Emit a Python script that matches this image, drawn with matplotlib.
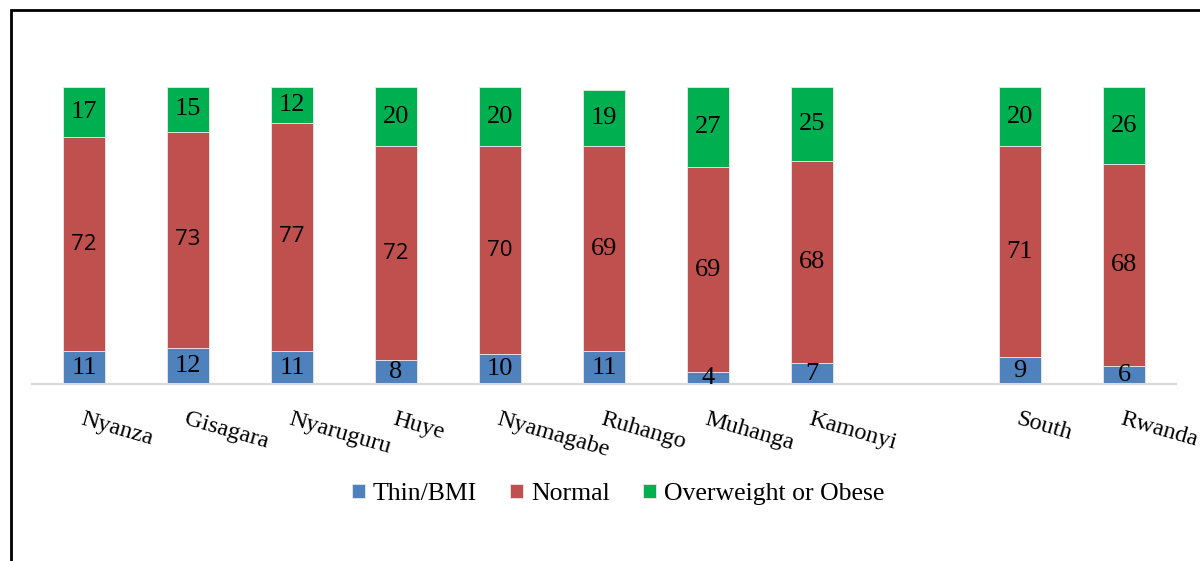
import matplotlib.pyplot as plt
from matplotlib.patches import Rectangle

# BMI categories by district (percent)
districts = ['Nyanza', 'Gisagara', 'Nyaruguru', 'Huye', 'Nyamagabe',
             'Ruhango', 'Muhanga', 'Kamonyi', '', 'South', 'Rwanda']
thin = [11, 12, 11, 8, 10, 11, 4, 7, None, 9, 6]
normal = [72, 73, 77, 72, 70, 69, 69, 68, None, 71, 68]
overweight = [17, 15, 12, 20, 20, 19, 27, 25, None, 20, 26]

series_names = ['Thin/BMI', 'Normal', 'Overweight or Obese']
colors = ['#4F81BD', '#C0504D', '#00B050']

serif = 'Liberation Serif'
sans = 'Open Sans'

fig = plt.figure(figsize=(12, 5.61), dpi=100)
W, H = 1200, 561
ax = fig.add_axes([32 / W, 1 - 384 / H, 1144 / W, 297 / H])

# drop the empty spacer slot
idx = [i for i, d in enumerate(districts) if d]
x = idx
t = [thin[i] for i in idx]
n = [normal[i] for i in idx]
o = [overweight[i] for i in idx]
bottom_o = [a + b for a, b in zip(t, n)]

bw = 0.40
b1 = ax.bar(x, t, bw, color=colors[0], edgecolor='#e8e8e8', linewidth=0.6, label=series_names[0])
b2 = ax.bar(x, n, bw, bottom=t, color=colors[1], edgecolor='#e8e8e8', linewidth=0.6, label=series_names[1])
b3 = ax.bar(x, o, bw, bottom=bottom_o, color=colors[2], edgecolor='#e8e8e8', linewidth=0.6, label=series_names[2])

# value labels
for k, xi in enumerate(x):
    ax.text(xi, t[k] / 2, str(t[k]), ha='center', va='center',
            fontsize=19, family=serif, color='black')
    mid_font = sans if k < 5 else serif
    mid_size = 16 if k < 5 else 19
    ax.text(xi, t[k] + n[k] / 2, str(n[k]), ha='center', va='center',
            fontsize=mid_size, family=mid_font, color='black')
    ax.text(xi, bottom_o[k] + o[k] / 2, str(o[k]), ha='center', va='center',
            fontsize=19, family=serif, color='black')

ax.set_xlim(-0.5, 10.5)
ax.set_ylim(0, 100)
ax.set_yticks([])
ax.set_xticks(x)
ax.set_xticklabels([districts[i] for i in idx], rotation=-16, ha='left',
                   rotation_mode='anchor', family=serif, fontsize=17.5)
ax.tick_params(axis='x', length=0, pad=18)
for s in ['top', 'right', 'left']:
    ax.spines[s].set_visible(False)
ax.spines['bottom'].set_color('#d9d9d9')
ax.spines['bottom'].set_linewidth(1.5)
ax.patch.set_alpha(0)

fig.legend(handles=[b1, b2, b3], loc='center', bbox_to_anchor=(618 / W, 1 - 494 / H),
           ncol=3, frameon=False, prop={'family': serif, 'size': 18.5},
           handlelength=0.5, handleheight=0.5, handletextpad=0.3, columnspacing=1.3)

# outer frame (cut off at right and bottom)
fig.patches.append(Rectangle((11 / W, -0.2), 1.2, 1.2 - 10 / H, transform=fig.transFigure,
                             fill=False, edgecolor='black', linewidth=2, zorder=0))

fig.savefig('out.png', dpi=100)
